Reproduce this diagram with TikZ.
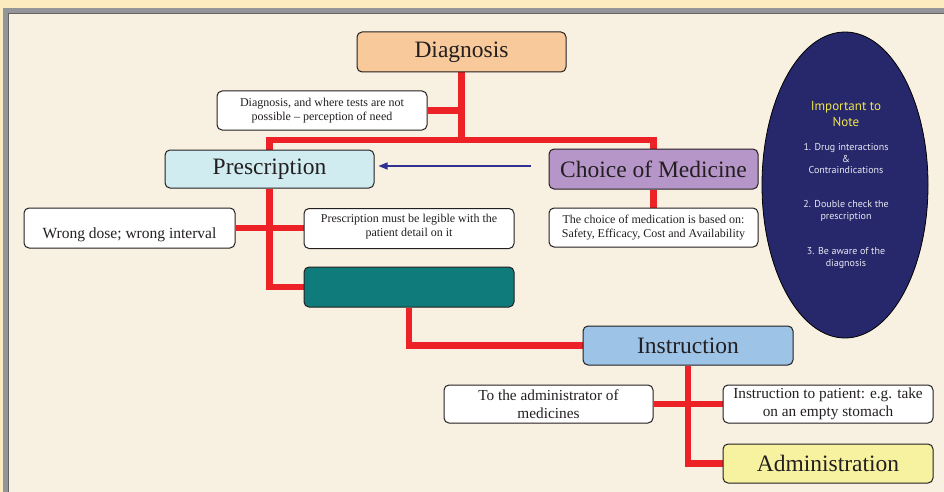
\documentclass[tikz,border=0pt]{standalone}
\usepackage{fontspec}
\setmainfont{Liberation Serif}
\newfontfamily\notefont{PT Sans}
\usetikzlibrary{shapes.geometric,arrows.meta}
\pgfdeclarelayer{background}
\pgfsetlayers{background,main}
\definecolor{topyellow}{HTML}{FDEBC0}
\definecolor{framegrey}{HTML}{939598}
\definecolor{bgbeige}{HTML}{F8F1E2}
\definecolor{linkred}{HTML}{ED2226}
\definecolor{inkdark}{HTML}{231F20}
\definecolor{peach}{HTML}{F8C99A}
\definecolor{lightcyan}{HTML}{D0ECF0}
\definecolor{lavender}{HTML}{B696C8}
\definecolor{tealbox}{HTML}{107B7B}
\definecolor{skyblue}{HTML}{9DC3E6}
\definecolor{paleyellow}{HTML}{F7F29F}
\definecolor{navyoval}{HTML}{27286B}
\definecolor{arrownavy}{HTML}{2E3192}
\definecolor{noteyellow}{HTML}{EFE54A}
\definecolor{notewhite}{HTML}{E8E8F2}
\begin{document}
\begin{tikzpicture}[x=1pt,y=-1pt,
  box/.style={draw=inkdark, line width=1pt, rounded corners=5pt, inner sep=0pt,
    text=inkdark, align=center},
  titlebox/.style={box, font=\fontsize{23.5}{26}\selectfont},
  notebox/.style={box, fill=white, font=\fontsize{12}{14}\selectfont},
  bignote/.style={box, fill=white, font=\fontsize{15.3}{17.5}\selectfont},
  link/.style={draw=linkred, line width=6.5pt},
  ovaltext/.style={align=center, text=notewhite, font=\notefont\fontsize{10}{11.7}\selectfont}
]
\useasboundingbox (0,0) rectangle (944,492);
% frame
\begin{pgfonlayer}{background}
\fill[topyellow] (0,0) rectangle (944,492);
\fill[framegrey] (3,8) rectangle (944,492);
\fill[bgbeige] (8,13) rectangle (944,492);
\draw[inkdark!70, line width=0.8pt] (8,492) -- (8,13) -- (944,13);
\end{pgfonlayer}

% nodes
\node[titlebox, fill=peach, minimum width=209, minimum height=40] (diag) at (461.5,52) {Diagnosis};
\node[notebox, minimum width=210, minimum height=39] (dnote) at (322,110.5)
  {Diagnosis, and where tests are not\\possible -- perception of need};
\node[titlebox, fill=lightcyan, minimum width=209, minimum height=38] (presc) at (269.5,169) {Prescription};
\node[titlebox, fill=lavender, minimum width=209, minimum height=40] (choice) at (653.5,169) {Choice of Medicine};
\node[notebox, minimum width=209, minimum height=39] (cnote) at (653.5,227.5)
  {The choice of medication is based on:\\Safety, Efficacy, Cost and Availability};
\node[box, fill=white, minimum width=211, minimum height=40, font=\fontsize{15.5}{17.5}\selectfont]
  (wrong) at (129.5,228) {\raisebox{-10.5pt}[4pt][4pt]{Wrong dose; wrong interval}};
\node[notebox, minimum width=210, minimum height=40, anchor=north] (pnote) at (409,208)
  {\rule{0pt}{14pt}Prescription must be legible with the\\patient detail on it\rule[-12pt]{0pt}{12pt}};
\node[box, fill=tealbox, minimum width=210, minimum height=40] (teal) at (409,287) {};
\node[titlebox, fill=skyblue, minimum width=210, minimum height=39] (instr) at (688,345.5) {Instruction};
\node[bignote, minimum width=209, minimum height=38] (anote) at (548.5,404)
  {To the administrator of\\medicines};
\node[bignote, minimum width=210, minimum height=38] (pat) at (828,404)
  {Instruction to patient: e.g. take\\on an empty stomach};
\node[titlebox, fill=paleyellow, minimum width=210, minimum height=39] (admin) at (828,463.5) {Administration};

% oval
\node[ellipse, draw=black, line width=0.8pt, fill=navyoval, minimum width=166, minimum height=306] (oval) at (845,185) {};
\node[align=center, text=noteyellow, font=\notefont\fontsize{13}{15.5}\selectfont] (otitle) at (846,114) {Important to\\Note};
\node[ovaltext] (o1) at (846,158.5) {1. Drug interactions\\\&\\Contraindications};
\node[ovaltext] (o2) at (846,211) {2. Double check the\\prescription};
\node[ovaltext] (o3) at (846,258) {3. Be aware of the\\diagnosis};

% red connectors behind the boxes
\begin{pgfonlayer}{background}
\coordinate (j1) at (diag.south |- 0,140);
\path[link] (diag.south) -- (j1);
\path[link] (dnote.east) -- (dnote.east -| diag.south);
\path[link] (presc.north) |- (j1) -| (choice.north);
\path[link] (presc.south) |- (teal.west);
\path[link] (wrong.east) -- (pnote.west |- wrong.east);
\path[link] (choice.south) -- (cnote.north);
\path[link] (teal.south) |- (instr.west);
\path[link] (instr.south) |- (admin.west);
\path[link] (anote.east) -- (pat.west);
\end{pgfonlayer}

% arrow
\draw[arrownavy, line width=1.3pt, -{Triangle[length=9pt,width=7pt]}, shorten <=18pt, shorten >=4pt]
  (choice.west |- 0,166) -- (presc.east |- 0,166);
\end{tikzpicture}
\end{document}
